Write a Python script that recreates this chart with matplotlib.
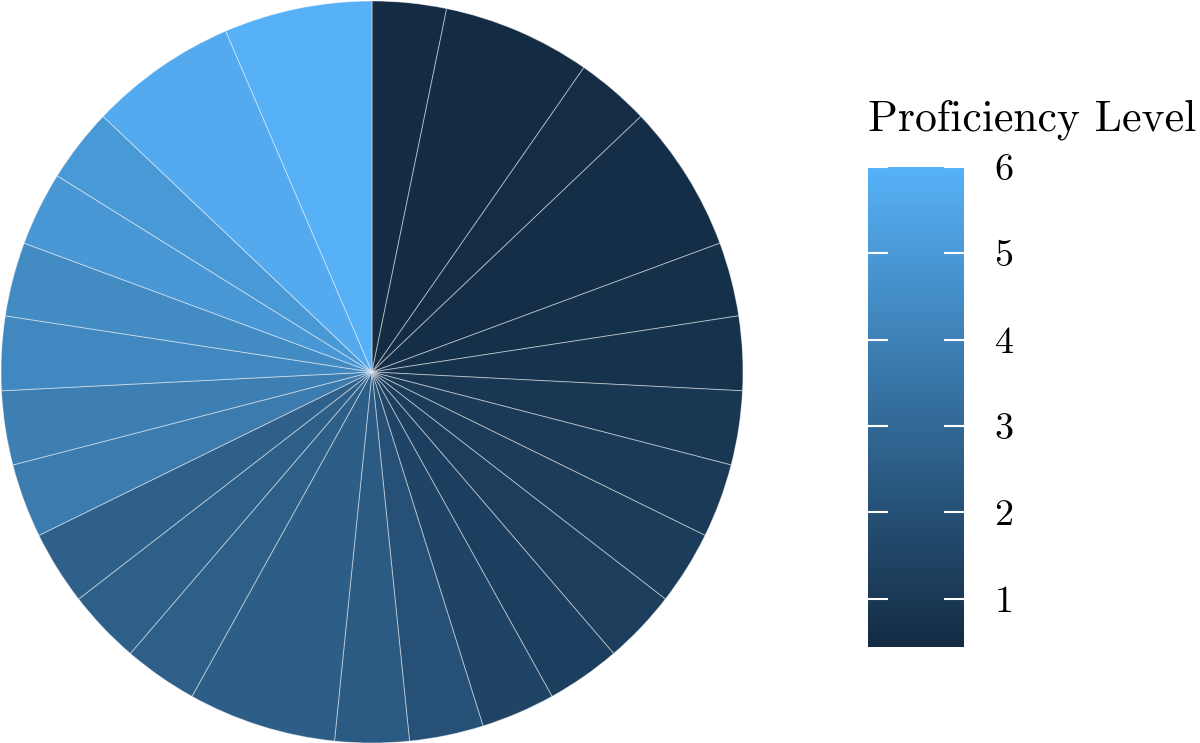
import numpy as np
import matplotlib
matplotlib.use("Agg")
import matplotlib.pyplot as plt
from matplotlib.colors import LinearSegmentedColormap, Normalize
from matplotlib.cm import ScalarMappable

# slices clockwise from 12 o'clock: size (count) and proficiency level
slice_counts = [1, 2, 1, 2, 1, 1, 1, 1, 1, 1, 1, 1, 1, 1, 2, 1, 1, 1, 1, 1, 1, 1, 1, 1, 2, 2]
proficiency = [0.44, 0.46, 0.50, 0.55, 0.65, 0.73, 0.94, 1.07, 1.15, 1.20, 1.30, 1.50, 2.00,
               2.40, 2.55, 2.60, 2.60, 2.65, 3.75, 3.90, 4.30, 4.40, 4.90, 5.00, 5.70, 6.00]
level_ticks = [1, 2, 3, 4, 5, 6]
legend_title = "Proficiency Level"

FONT = "cmr10"
cmap = LinearSegmentedColormap.from_list("gg", ["#132B43", "#56B1F7"])
norm = Normalize(vmin=min(proficiency), vmax=max(proficiency))

fig = plt.figure(figsize=(12, 7.43), dpi=100)

# --- pie ---
ax = fig.add_axes([1 / 1200, 0, 742 / 1200, 742 / 743])
ax.pie(slice_counts, colors=cmap(norm(np.array(proficiency))), startangle=90,
       counterclock=False, radius=1,
       wedgeprops=dict(edgecolor=(1, 1, 1, 0.45), linewidth=0.7))
ax.set_xlim(-1, 1)
ax.set_ylim(-1, 1)
ax.set_aspect("equal")
ax.axis("off")

# --- colour bar legend ---
cax = fig.add_axes([868 / 1200, (743 - 647) / 743, 96 / 1200, 480 / 743])
cb = fig.colorbar(ScalarMappable(norm=norm, cmap=cmap), cax=cax, ticks=level_ticks)
cb.outline.set_visible(False)
cax.tick_params(axis="y", direction="in", length=14.5, width=1.5, color="white",
                left=True, right=True, labelleft=False, labelright=True,
                labelsize=27.5, pad=22)
for lab in cax.get_yticklabels():
    lab.set_fontfamily(FONT)

fig.text(868 / 1200, 1 - 131 / 743, legend_title, fontsize=31.5, fontfamily=FONT,
         ha="left", va="baseline")

fig.savefig("out.png", dpi=100)
